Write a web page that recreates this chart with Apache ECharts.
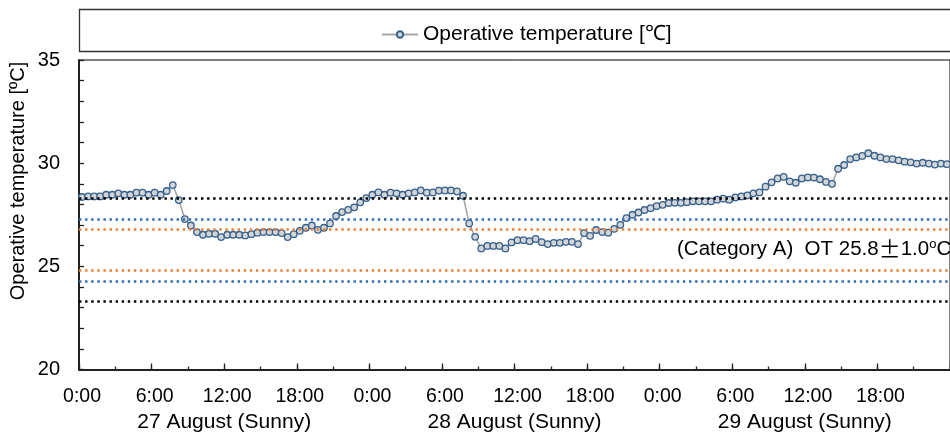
<!DOCTYPE html>
<html><head><meta charset="utf-8">
<script src="https://cdn.jsdelivr.net/npm/echarts@6/dist/echarts.min.js"></script>
<style>html,body{margin:0;padding:0;background:#fff}#c{width:950px;height:435px}</style>
</head><body><div id="c"></div>
<script>
const seriesName = 'Operative temperature [℃]';
const yAxisTitle = 'Operative temperature [ºC]';
const dayLabels = ['27 August (Sunny)', '28 August (Sunny)', '29 August (Sunny)'];
const stepsPerDay = 48; // half-hourly readings
const operativeTemp = [
  28.36, 28.39, 28.39, 28.39, 28.47, 28.47, 28.54, 28.47, 28.47, 28.57, 28.57, 28.47, 28.57, 28.47, 28.65, 28.94,
  28.21, 27.29, 26.98, 26.66, 26.53, 26.58, 26.58, 26.42, 26.53, 26.53, 26.53, 26.50, 26.56,
  26.63, 26.66, 26.66, 26.66, 26.61, 26.42, 26.56, 26.72, 26.87, 26.98, 26.77, 26.87, 27.08, 27.44, 27.63, 27.74,
  27.86, 28.10, 28.31, 28.47, 28.58, 28.47, 28.57, 28.54, 28.47, 28.54, 28.58, 28.68,
  28.57, 28.58, 28.67, 28.68, 28.68, 28.63, 28.42, 27.08, 26.43, 25.87, 25.99, 25.99, 25.99, 25.87, 26.16, 26.27,
  26.27, 26.22, 26.33, 26.17, 26.08, 26.14, 26.14, 26.19, 26.19, 26.08, 26.61, 26.48, 26.76,
  26.66, 26.63, 26.82, 27.01, 27.34, 27.50, 27.61, 27.73, 27.82, 27.92, 27.98, 28.07, 28.08, 28.08, 28.11, 28.15,
  28.15, 28.15, 28.15, 28.23, 28.28, 28.23, 28.34, 28.39, 28.44, 28.54, 28.58, 28.86,
  29.07, 29.26, 29.34, 29.12, 29.05, 29.26, 29.31, 29.30, 29.22, 29.09, 29.00, 29.73, 29.91, 30.20, 30.28, 30.35,
  30.48, 30.36, 30.28, 30.20, 30.20, 30.14, 30.07, 30.04, 29.98, 30.02, 29.98, 29.93, 29.98, 29.95
];
const catALimits = [24.8, 26.8];   // orange
const catBLimits = [24.3, 27.3];   // blue
const catCLimits = [23.3, 28.3];   // black
const yTickLabels = [20, 25, 30, 35];

const timeCats = [];
for (let d = 0; d < dayLabels.length; d++) {
  for (let s = 0; s < stepsPerDay; s++) {
    const h = Math.floor(s / 2), m = s % 2 ? '30' : '00';
    timeCats.push(h + ':' + m);
  }
}

const FONT = "'Liberation Sans', Arial, sans-serif";
const ORANGE = '#ED7D31', BLUE = '#2E6DB4', BLACK = '#000000';
const dotStyle = c => ({ color: c, width: 2.6, type: [2.4, 3.7] });

const chart = echarts.init(document.getElementById('c'), null, { renderer: 'canvas' });
chart.setOption({
  animation: false,
  backgroundColor: '#fff',
  textStyle: { fontFamily: FONT },
  grid: { left: 79, top: 60, width: 880, height: 309.5, show: true, borderColor: '#000', borderWidth: 1, backgroundColor: 'transparent', containLabel: false },
  legend: {
    data: [seriesName], left: 376, top: 19, itemWidth: 36, itemHeight: 8, itemGap: 10,
    textStyle: { fontSize: 21, color: '#000', fontFamily: FONT }
  },
  xAxis: [
    {
      type: 'category', data: timeCats, boundaryGap: true, position: 'bottom',
      axisLine: { show: true, onZero: false, lineStyle: { color: '#222', width: 2 } },
      axisTick: { show: true, inside: true, interval: 5, length: 3, lineStyle: { color: '#222', width: 1.3 } },
      axisLabel: { interval: 11, fontSize: 19.5, color: '#000', margin: 17, fontFamily: FONT },
      splitLine: { show: false }
    },
    {
      type: 'category', data: timeCats, boundaryGap: true, position: 'bottom',
      axisLine: { show: false, onZero: false },
      axisTick: { show: true, inside: true, interval: 11, length: 6, lineStyle: { color: '#222', width: 1.3 } },
      axisLabel: { show: false }, splitLine: { show: false }
    },
    {
      type: 'category', data: dayLabels, boundaryGap: true, position: 'bottom',
      axisLine: { show: false, onZero: false }, axisTick: { show: false },
      axisLabel: { interval: 0, fontSize: 21, color: '#000', margin: 42, fontFamily: FONT },
      splitLine: { show: false }
    }
  ],
  yAxis: {
    type: 'value', min: 20, max: 35, interval: 1,
    axisLine: { show: true, lineStyle: { color: '#222', width: 2 } },
    axisTick: { show: true, inside: true, length: 5, lineStyle: { color: '#222', width: 1.3 } },
    axisLabel: {
      fontSize: 20, color: '#000', margin: 19, fontFamily: FONT,
      formatter: v => (yTickLabels.indexOf(v) >= 0 ? String(v) : '')
    },
    splitLine: { show: false }
  },
  series: [{
    name: seriesName, type: 'line', xAxisIndex: 0, data: operativeTemp,
    symbol: 'circle', symbolSize: 6.5, showSymbol: true, showAllSymbol: true,
    lineStyle: { color: '#A6A6A6', width: 1.6 },
    itemStyle: { color: '#D4D4D4', borderColor: '#34608F', borderWidth: 1.3 },
    markLine: {
      silent: true, symbol: 'none', label: { show: false },
      data: [
        { yAxis: catCLimits[1], lineStyle: dotStyle(BLACK) },
        { yAxis: catBLimits[1], lineStyle: dotStyle(BLUE) },
        { yAxis: catALimits[1], lineStyle: dotStyle(ORANGE) },
        { yAxis: catALimits[0], lineStyle: dotStyle(ORANGE) },
        { yAxis: catBLimits[0], lineStyle: dotStyle(BLUE) },
        { yAxis: catCLimits[0], lineStyle: dotStyle(BLACK) }
      ]
    }
  }],
  graphic: [
    { type: 'rect', z: 0, shape: { x: 79.5, y: 9.5, width: 900, height: 42 }, style: { fill: 'none', stroke: '#333', lineWidth: 1.3 } },
    { type: 'text', x: 18, y: 181, rotation: Math.PI / 2,
      style: { text: yAxisTitle, font: '20px ' + FONT, fill: '#000', align: 'center', verticalAlign: 'middle' } },
    { type: 'text', x: 677, y: 249,
      style: {
        text: '{a|(Category A)  OT 25.8}{b|±}{a|1.0}{c|o}{a|C}',
        align: 'left', verticalAlign: 'middle',
        rich: {
          a: { fontSize: 20.5, fontFamily: FONT, fill: '#000', color: '#000' },
          b: { fontSize: 22, fontFamily: "'Noto Sans CJK JP'", color: '#000', fill: '#000' },
          c: { fontSize: 13, fontFamily: FONT, color: '#000', fill: '#000', verticalAlign: 'top', padding: [0, 0, 8, 0] }
        }
      } }
  ]
});
</script></body></html>
